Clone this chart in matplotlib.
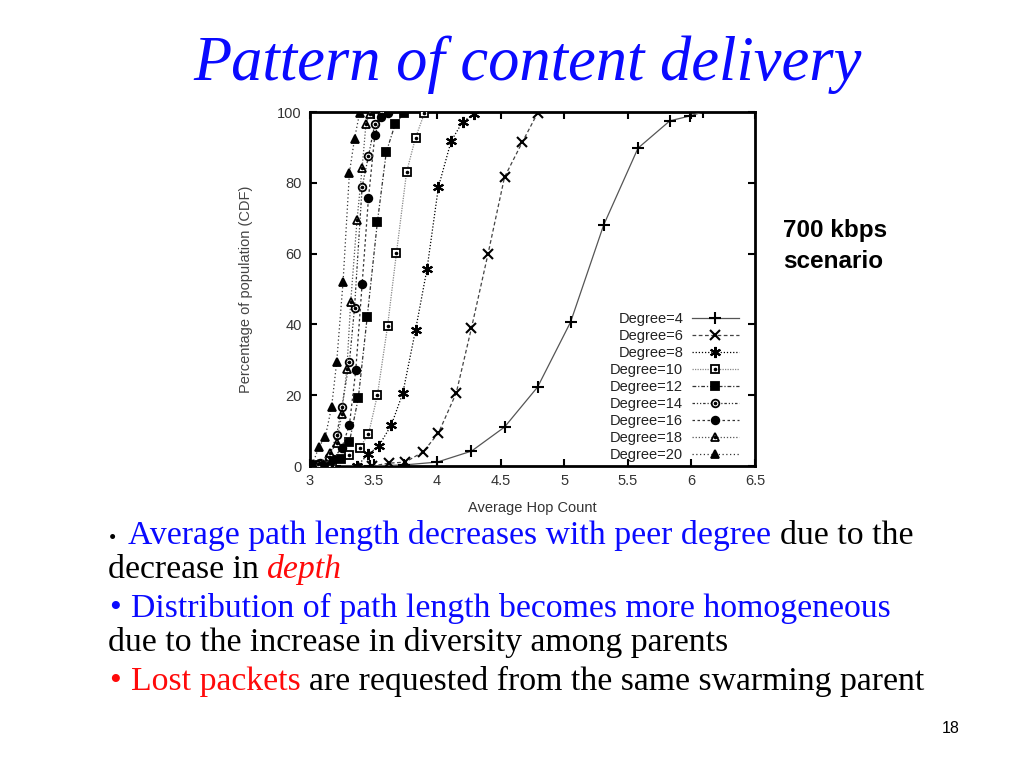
import matplotlib
matplotlib.use('Agg')
import matplotlib.pyplot as plt
from matplotlib.legend_handler import HandlerTuple

plt.rcParams['font.family'] = ['Liberation Sans', 'DejaVu Sans']
plt.rcParams['font.size'] = 10

# average hop count (x) and CDF of population in % (y), per peer degree
hop_d4 = [3.20, 3.47, 3.74, 4.00, 4.27, 4.53, 4.79, 5.05, 5.31, 5.58, 5.83, 5.99, 6.09]
cdf_d4 = [0.0, 0.0, 0.3, 1.1, 4.2, 11.0, 22.3, 40.7, 68.1, 89.8, 97.5, 98.9, 100.0]

hop_d6 = [3.49, 3.62, 3.75, 3.89, 4.01, 4.15, 4.27, 4.40, 4.53, 4.67, 4.79]
cdf_d6 = [0.0, 0.8, 1.1, 4.0, 9.3, 20.6, 39.0, 59.9, 81.6, 91.5, 99.7]

hop_d8 = [3.37, 3.46, 3.54, 3.64, 3.73, 3.83, 3.92, 4.01, 4.11, 4.20, 4.29]
cdf_d8 = [0.0, 3.4, 5.6, 11.6, 20.6, 38.4, 55.6, 78.8, 91.8, 97.2, 99.4]

hop_d10 = [3.17, 3.31, 3.39, 3.46, 3.53, 3.61, 3.68, 3.76, 3.83, 3.90]
cdf_d10 = [0.0, 3.1, 5.1, 9.0, 20.0, 39.5, 60.2, 83.1, 92.7, 99.7]

hop_d12 = [3.02, 3.16, 3.24, 3.31, 3.38, 3.45, 3.53, 3.60, 3.67, 3.74]
cdf_d12 = [0.3, 1.4, 2.0, 6.8, 19.2, 42.1, 68.9, 88.7, 96.6, 99.7]

hop_d14 = [3.08, 3.15, 3.21, 3.25, 3.31, 3.35, 3.41, 3.46, 3.51, 3.57]
cdf_d14 = [0.8, 2.5, 8.8, 16.7, 29.4, 44.6, 78.8, 87.6, 96.6, 99.4]

hop_d16 = [3.09, 3.18, 3.25, 3.31, 3.36, 3.41, 3.46, 3.51, 3.56, 3.61]
cdf_d16 = [0.5, 2.0, 5.1, 11.6, 27.1, 51.4, 75.7, 93.5, 98.6, 99.7]

hop_d18 = [3.06, 3.16, 3.21, 3.25, 3.29, 3.32, 3.37, 3.41, 3.44, 3.47]
cdf_d18 = [0.5, 3.7, 6.5, 14.7, 27.4, 46.3, 69.5, 84.2, 96.6, 99.4]

hop_d20 = [3.02, 3.07, 3.12, 3.17, 3.21, 3.26, 3.31, 3.35, 3.39]
cdf_d20 = [0.5, 5.4, 8.2, 16.7, 29.4, 52.0, 82.8, 92.4, 99.7]

x_ticks = [3, 3.5, 4, 4.5, 5, 5.5, 6, 6.5]
y_ticks = [0, 20, 40, 60, 80, 100]

fig = plt.figure(figsize=(10.24, 7.68), dpi=100)
W, H = 1024.0, 768.0

ax = fig.add_axes([310 / W, 1 - 466 / H, 445 / W, 354 / H])

ast = (6, 2, 0)   # asterisk marker
series = [
    ('Degree=4',  hop_d4,  cdf_d4,  '-',               '+', 'none',  '#555555', False),
    ('Degree=6',  hop_d6,  cdf_d6,  (0, (3, 2)),       'x', 'none',  '#444444', False),
    ('Degree=8',  hop_d8,  cdf_d8,  (0, (1, 1.5)),     ast, 'none',  'black',   False),
    ('Degree=10', hop_d10, cdf_d10, (0, (1, 1)),       's', 'white', '#888888', True),
    ('Degree=12', hop_d12, cdf_d12, (0, (3, 1.5, 1, 1.5)), 's', 'black', '#333333', False),
    ('Degree=14', hop_d14, cdf_d14, (0, (2, 1.5, 1, 1.5, 1, 1.5)), 'o', 'white', '#333333', True),
    ('Degree=16', hop_d16, cdf_d16, (0, (2, 2)),       'o', 'black', '#333333', False),
    ('Degree=18', hop_d18, cdf_d18, (0, (1, 1.5)),     '^', 'white', '#555555', True),
    ('Degree=20', hop_d20, cdf_d20, (0, (1, 2)),       '^', 'black', '#333333', False),
]
msize = {'+': 8, 'x': 6.5, 's': 5.5, 'o': 5.5, '^': 6}

handles, labels = [], []
for label, xs, ys, ls, mk, mfc, lc, dotted in series:
    ms = msize.get(mk, 8) if isinstance(mk, str) else 8
    mew = 1.5 if ms >= 6.5 else 1.3
    h, = ax.plot(xs, ys, linestyle=ls, color=lc, linewidth=0.9,
                 marker=mk, markersize=ms, markerfacecolor=mfc,
                 markeredgecolor='black', markeredgewidth=mew, zorder=3)
    if dotted:
        d, = ax.plot(xs, ys, linestyle='none', marker='o', markersize=1.6,
                     color='black', zorder=4)
        handles.append((h, d))
    else:
        handles.append(h)
    labels.append(label)

ax.set_xlim(3, 6.5)
ax.set_ylim(0, 100)
ax.set_xticks(x_ticks)
ax.set_xticklabels(['3', '3.5', '4', '4.5', '5', '5.5', '6', '6.5'])
ax.set_yticks(y_ticks)
ax.tick_params(direction='in', top=True, right=True, length=5, width=1.5,
               labelsize=10.5, colors='black', labelcolor='#333333', pad=6)
for sp in ax.spines.values():
    sp.set_linewidth(2)
ax.set_xlabel('Average Hop Count', fontsize=10.5, color='#333333', labelpad=9)
ax.set_ylabel('Percentage of population (CDF)', fontsize=10.5, color='#444444',
              labelpad=17)

leg = ax.legend(handles, labels, loc='lower right', bbox_to_anchor=(0.973, 0.0),
                frameon=False, markerfirst=False, handlelength=3.2, handletextpad=0.6,
                labelspacing=0.2, fontsize=10.5, borderaxespad=0.1, borderpad=0.2,
                handler_map={tuple: HandlerTuple(ndivide=1, pad=0)})
for t in leg.get_texts():
    t.set_ha('right')
    t.set_color('#222222')
leg._legend_box.align = 'right'

# slide title
fig.text(528 / W, 1 - 80 / H, 'Pattern of content delivery', family='Liberation Serif',
         style='italic', fontsize=45, color='#0a0aff', ha='center', va='baseline')

fig.text(783 / W, 1 - 237 / H, '700 kbps', fontsize=17.5, fontweight='bold',
         ha='left', va='baseline')
fig.text(783 / W, 1 - 268 / H, 'scenario', fontsize=17.5, fontweight='bold',
         ha='left', va='baseline')

fig.text(960 / W, 1 - 733 / H, '18', fontsize=11.5, ha='right', va='baseline')

# bullet text, written in coloured pieces
renderer = fig.canvas.get_renderer()
BLUE, RED, BLACK = '#0a0aff', '#ff0a0a', 'black'
SZ = 24.3


def width_of(s, style='normal'):
    t = fig.text(0, 0, s, family='Liberation Serif', fontsize=SZ, style=style)
    w = t.get_window_extent(renderer).width
    t.remove()
    return w


space_w = width_of('a a') - width_of('aa')


def line(x_px, y_px, parts):
    x = x_px
    for s, color, style, sp in parts:
        t = fig.text(x / W, 1 - y_px / H, s, family='Liberation Serif', fontsize=SZ,
                     color=color, style=style, ha='left', va='baseline')
        x += t.get_window_extent(renderer).width + (space_w if sp else 0)


def bullet(y_px, color, size):
    fig.text(109 / W, 1 - y_px / H, '\u2022', family='Liberation Serif', fontsize=size,
             color=color, ha='left', va='baseline')


bullet(544, BLACK, 15)
line(128, 544, [('Average path length decreases with peer degree', BLUE, 'normal', True),
                ('due to the', BLACK, 'normal', False)])
line(108, 578, [('decrease in', BLACK, 'normal', True),
                ('depth', RED, 'italic', False)])
bullet(617, BLUE, SZ)
line(131, 617, [('Distribution of path length becomes more homogeneous', BLUE, 'normal', False)])
line(108, 651, [('due to the increase in diversity among parents', BLACK, 'normal', False)])
bullet(690, RED, SZ)
line(131, 690, [('Lost packets', RED, 'normal', True),
                ('are requested from the same swarming parent', BLACK, 'normal', False)])

fig.savefig('out.png', dpi=100, facecolor='white')
